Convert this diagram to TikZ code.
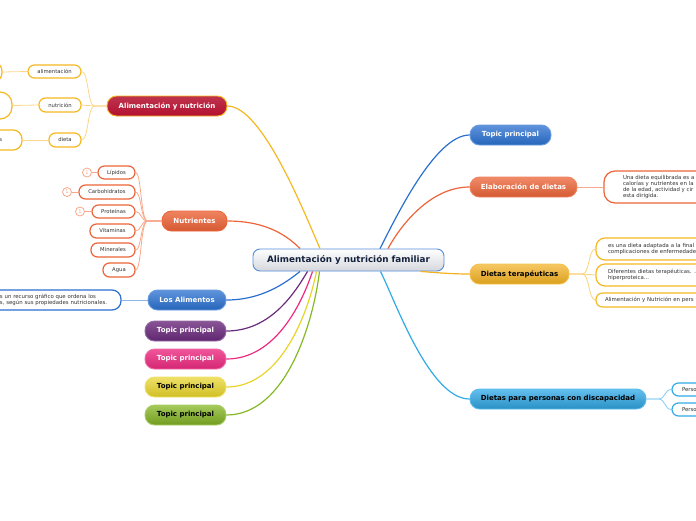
\documentclass[tikz,border=0pt]{standalone}
\usepackage{fontspec}
\setmainfont{DejaVu Sans}
\definecolor{cYel}{HTML}{F5B820}
\definecolor{cYelL}{HTML}{FBD68A}
\definecolor{cRedT}{HTML}{B3102E}
\definecolor{cOra}{HTML}{EC6438}
\definecolor{cOraL}{HTML}{F8A88A}
\definecolor{cBlu}{HTML}{2A70D0}
\definecolor{cBluL}{HTML}{8AB8E8}
\definecolor{cPur}{HTML}{6A2A7C}
\definecolor{cPin}{HTML}{EC2A80}
\definecolor{cYl2}{HTML}{E8D428}
\definecolor{cGrn}{HTML}{86B824}
\definecolor{cGold}{HTML}{F2B020}
\definecolor{cGoldL}{HTML}{FCD27A}
\definecolor{cSky}{HTML}{30AAE8}
\definecolor{cSkyL}{HTML}{86CCF2}
\definecolor{txtg}{HTML}{333333}
\definecolor{ctrTxt}{HTML}{14213D}
\begin{document}
\begin{tikzpicture}[x=1pt,y=-1pt,
  topic/.style n args={3}{draw=#3, line width=0.9pt, top color=#1, bottom color=#2,
    rounded corners=9.5pt, minimum height=20pt, inner sep=0pt,
    font=\fontsize{7}{8}\selectfont\bfseries, text=white},
  sub/.style={draw=#1, fill=white, line width=1.2pt, rounded corners=6.5pt,
    minimum height=13pt, inner sep=0pt, font=\fontsize{5.3}{6}\selectfont, text=txtg},
  para/.style={align=left, inner xsep=0pt, inner ysep=0pt,
    font=\fontsize{5.4}{6.2}\selectfont},
  circ/.style={circle, draw=cOraL, line width=0.8pt, minimum size=9pt, inner sep=0pt,
    font=\fontsize{5}{6}\selectfont, text=cOraL, fill=white},
  br/.style={draw=#1, line width=1.2pt},
  sbr/.style={draw=#1, line width=0.8pt}
]
\useasboundingbox (0,0) rectangle (696,520);

% center
\node[draw=cBlu!80, line width=0.9pt, top color=white, bottom color=ctrTxt!18,
  rounded corners=7pt, minimum width=191pt, minimum height=22pt, inner sep=0pt,
  font=\fontsize{8.8}{10}\selectfont\bfseries, text=ctrTxt] (ctr) at (348.5,260)
  {Alimentación y nutrición familiar};

% left topics
\node[topic={cRedT!85!white}{cRedT}{cYel}, minimum width=120pt] (ayn) at (167,106) {Alimentación y nutrición};
\node[topic={cOra!80!white}{cOra!90!black}{cOra}, minimum width=65pt] (nut) at (194.5,221) {Nutrientes};
\node[topic={cBlu!75!white}{cBlu!90!black}{cBlu!70!white}, minimum width=78pt] (la) at (187,300) {Los Alimentos};
\node[topic={cPur!80!white}{cPur!90!black}{cPur!70!white}, minimum width=81pt] (tp1) at (185.5,331) {Topic principal};
\node[topic={cPin!80!white}{cPin!90!black}{cPin!70!white}, minimum width=81pt] (tp2) at (185.5,359) {Topic principal};
\node[topic={cYl2!70!white}{cYl2!90!black}{cYl2!70!white}, minimum width=81pt, text=black] (tp3) at (185.5,387) {Topic principal};
\node[topic={cGrn!75!white}{cGrn!85!black}{cGrn!70!white}, minimum width=81pt, text=black] (tp4) at (185.5,415) {Topic principal};

% right topics
\node[topic={cBlu!75!white}{cBlu!90!black}{cBlu!70!white}, minimum width=81pt] (tpb) at (510.5,135) {Topic principal};
\node[topic={cOra!75!white}{cOra!90!black}{cOra!80!white}, minimum width=107pt] (ela) at (523.5,187) {Elaboración de dietas};
\node[topic={cGold!70!white}{cGold!90!black}{cGold!80!white}, minimum width=99pt, text=black] (dt) at (519.5,274) {Dietas terapéuticas};
\node[topic={cSky!75!white}{cSky!85!black}{cSky!80!white}, minimum width=176pt, text=black] (dis) at (558,399) {Dietas para personas con discapacidad};

% AyN children
\node[sub=cYel, minimum width=53pt] (al) at (54.5,71.5) {alimentación};
\node[sub=cYel, minimum width=42pt, minimum height=14pt] (nu) at (60,105) {nutrición};
\node[sub=cYel, minimum width=32pt, minimum height=14pt] (di) at (65,140) {dieta};
\node[sub=cYel, minimum width=62pt, minimum height=20pt, rounded corners=9pt] (l1) at (-29,72) {};
\node[sub=cYel, minimum width=72pt, minimum height=27pt, rounded corners=12pt] (l2) at (-24,105.5) {};
\node[sub=cYel, minimum width=82pt, minimum height=20pt, rounded corners=9pt] (l3) at (-19,140)
  {\makebox[82pt][l]{\hspace*{59.5pt}s}};

% Nutrientes children
\node[sub=cOra, minimum width=37pt] (lip) at (116.5,172.5) {Lípidos};
\node[sub=cOra, minimum width=56pt, minimum height=14pt] (car) at (107,192) {Carbohidratos};
\node[sub=cOra, minimum width=43pt] (pro) at (113.5,211.5) {Proteínas};
\node[sub=cOra, minimum width=45pt, minimum height=14pt] (vit) at (112.5,231) {Vitaminas};
\node[sub=cOra, minimum width=44pt, minimum height=14pt] (min) at (113,250) {Minerales};
\node[sub=cOra, minimum width=32pt, minimum height=14pt] (agu) at (119,270) {Agua};
\node[circ] (c1) at (87,172.5) {1};
\node[circ] (c2) at (67,192) {1};
\node[circ] (c3) at (80,211.5) {1};

% Los Alimentos text
\node[sub=cBlu, minimum width=181pt, minimum height=20pt, rounded corners=9pt, para, text width=181pt] (lat) at (30.5,300)
  {\hspace*{60pt}s un recurso gráfico que ordena los\\\hspace*{60pt}s, según sus propiedades nutricionales.};

% Elaboración text
\node[sub=cOra, minimum width=176pt, minimum height=32pt, rounded corners=11pt, para, text width=176pt] (elt) at (692,187)
  {\hspace*{19pt}Una dieta equilibrada es a\\\hspace*{19pt}calorías y nutrientes en la\\\hspace*{19pt}de la edad, actividad y cir\\\hspace*{19pt}esta dirigida.};

% Dietas terapéuticas texts
\node[sub=cYel, minimum width=184pt, minimum height=22pt, rounded corners=9pt, para, text width=184pt] (dt1) at (688,249)
  {\hspace*{12pt}es una dieta adaptada a la final\\\hspace*{12pt}complicaciones de enfermedade};
\node[sub=cYel, minimum width=184pt, minimum height=22pt, rounded corners=9pt, para, text width=184pt] (dt2) at (688,275)
  {\hspace*{12pt}Diferentes dietas terapéuticas. .\\\hspace*{12pt}hiperproteica...};
\node[sub=cYel, minimum width=184pt, minimum height=14pt, rounded corners=6.5pt, para, text width=184pt] (dt3) at (688,300)
  {\hspace*{9pt}Alimentación y Nutrición en pers};

% Discapacidad children
\node[sub=cSky, minimum width=108pt, para, text width=108pt, minimum height=13pt] (p1) at (726,389.5)
  {\hspace*{10pt}Perso};
\node[sub=cSky, minimum width=108pt, para, text width=108pt, minimum height=13pt] (p2) at (726,409.5)
  {\hspace*{10pt}Perso};

% main branches
\draw[br=cYel] ([xshift=-28.5pt]ctr.north) .. controls +(-15,-34) and +(35,0) .. (ayn.east);
\draw[br=cOra] ([xshift=-48.5pt]ctr.north) .. controls +(-12,-12) and +(40,0) .. (nut.east);
\draw[br=cBlu] ([xshift=31.5pt]ctr.north) .. controls +(14,-27) and +(-35,0) .. (tpb.west);
\draw[br=cOra] ([xshift=39.5pt]ctr.north) .. controls +(12,-22) and +(-40,0) .. (ela.west);
\draw[br=cBlu] ([xshift=-48.5pt]ctr.south) .. controls +(-15,12) and +(35,0) .. (la.east);
\draw[br=cPur] ([xshift=-41pt]ctr.south) .. controls +(-12,20) and +(45,0) .. (tp1.east);
\draw[br=cPin] ([xshift=-36pt]ctr.south) .. controls +(-10,30) and +(50,0) .. (tp2.east);
\draw[br=cYl2] ([xshift=-32pt]ctr.south) .. controls +(-8,40) and +(55,0) .. (tp3.east);
\draw[br=cGrn] ([xshift=-29pt]ctr.south) .. controls +(-6,50) and +(60,0) .. (tp4.east);
\draw[br=cSky] ([xshift=32pt]ctr.south) .. controls +(15,30) and +(-40,0) .. (dis.west);
\draw[br=cGold] ([xshift=72pt]ctr.south) .. controls +(15,1) and +(-20,0) .. (dt.west);

% sub branches
\foreach \n in {al,nu,di}
  \draw[sbr=cYelL] (ayn.west) -- ++(-12,0) .. controls +(-7,0) and +(7,0) .. (\n.east);
\draw[sbr=cYelL] (al.west) -- (l1.east);
\draw[sbr=cYelL] (nu.west) -- (l2.east);
\draw[sbr=cYelL] (di.west) -- (l3.east);
\foreach \n in {lip,car,pro,vit,min,agu}
  \draw[sbr=cOraL] (nut.west) -- ++(-14,0) .. controls +(-7,0) and +(6,0) .. (\n.east);
\draw[sbr=cOraL] (lip.west) -- (c1.east);
\draw[sbr=cOraL] (car.west) -- (c2.east);
\draw[sbr=cOraL] (pro.west) -- (c3.east);
\draw[sbr=cBluL] (la.west) -- (lat.east);
\draw[sbr=cOraL] (ela.east) -- (elt.west);
\foreach \n in {dt1,dt2,dt3}
  \draw[sbr=cGoldL] (dt.east) -- ++(13,0) .. controls +(7,0) and +(-7,0) .. (\n.west);
\foreach \n in {p1,p2}
  \draw[sbr=cSkyL] (dis.east) -- ++(12,0) .. controls +(7,0) and +(-7,0) .. (\n.west);
\end{tikzpicture}
\end{document}
